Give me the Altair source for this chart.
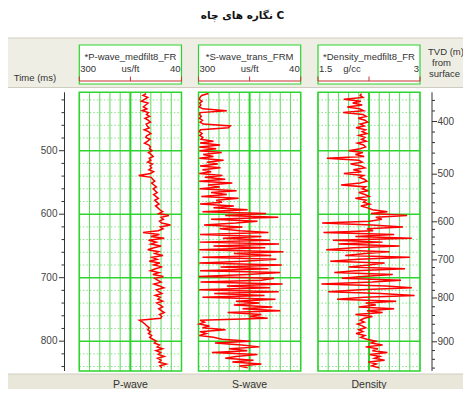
import altair as alt
import numpy as np
import pandas as pd

TITLE = "نگاره های چاه C"

# log samples: time (ms) = 410 + 3*i
t_start, t_step = 410, 3
p_wave = [130, 138, 126, 134, 142, 125, 131, 137, 128, 140, 124,
          129, 121, 133, 125, 119, 130, 127, 122, 135, 124, 118, 128, 131, 120, 126, 134, 123, 119,
          121, 115, 124, 117, 112, 122, 118, 126, 114, 120, 116, 123, 111, 119, 149, 117,
          113, 108, 116, 110, 104, 112, 107, 102, 111, 105, 99, 108, 103, 97, 106, 100,
          95, 88, 98, 72, 92, 86, 96, 90, 68, 94, 87, 99,
          138, 96, 118, 84, 124,
          104, 118, 92, 110, 126, 98, 108, 87, 115, 102, 122, 95, 111, 89, 106, 119, 97, 113, 86, 108,
          101, 92, 110, 96, 85, 104, 98, 90, 107, 94, 100, 88, 103,
          95, 88, 98, 91, 84, 96, 90, 93,
          147, 139, 133, 128, 122, 126, 119, 124, 116, 121,
          113, 104, 109, 96, 102, 88, 105, 93, 99, 84, 101, 92, 97, 79, 95, 90]
s_wave = [275, 292, 296, 298, 291, 297, 294, 298, 289, 228, 296,
          297, 293, 298, 290, 296, 288, 219, 224, 295, 298, 291, 297, 289, 294, 262, 296, 245, 298,
          255, 297, 241, 288, 262, 298, 236, 279, 251, 296, 244, 290, 268, 298, 239, 284,
          232, 298, 214, 276, 246, 297, 203, 268, 228, 293, 198, 255, 240, 296, 210, 262,
          175, 290, 128, 232, 97, 268, 150, 205, 286, 188, 246, 194,
          122, 296, 140, 238, 118,
          297, 95, 262, 130, 298, 84, 210, 115, 290, 102, 185, 298, 88, 244, 122, 296, 92, 175, 299, 108,
          140, 295, 86, 228, 118, 298, 96, 260, 132, 290, 104, 205, 145,
          210, 112, 188, 92, 226, 140, 170, 124,
          296, 285, 298, 272, 290, 231, 297, 280, 298, 262,
          240, 168, 258, 190, 145, 222, 176, 266, 150, 205, 232, 160, 214, 140, 196, 175]
density = [2.14, 2.12, 2.16, 1.88, 2.13, 2.01, 2.15, 1.93, 2.11, 2.17, 1.87,
           2.16, 2.21, 2.09, 2.19, 2.23, 2.12, 2.18, 2.06, 2.20, 2.15, 2.22, 2.10, 2.19, 2.14, 2.21, 2.08, 2.17, 2.20,
           2.12, 1.95, 2.16, 2.05, 2.18, 1.63, 2.10, 2.15, 1.98, 2.13, 2.19, 2.02, 2.14, 1.88, 2.17, 2.11,
           2.18, 2.22, 2.12, 1.84, 2.20, 2.15, 2.24, 2.10, 2.19, 2.25, 2.05, 2.21, 2.17, 2.26, 2.13, 2.23,
           2.30, 2.52, 2.28, 2.81, 2.35, 2.44, 2.26, 1.56, 2.29, 2.75, 2.22, 2.31,
           1.58, 2.62, 2.05, 2.88, 1.72,
           2.45, 1.80, 2.70, 2.02, 1.62, 2.55, 2.20, 1.90, 2.85, 2.10, 1.68, 2.48, 2.25, 1.95, 2.78, 2.05, 1.74, 2.60, 2.15, 1.85,
           2.72, 2.30, 1.55, 2.50, 2.88, 2.12, 1.65, 2.42, 2.92, 2.18, 1.78, 2.65, 2.20,
           2.35, 2.10, 2.62, 2.22, 2.45, 2.05, 2.30, 2.18,
           2.12, 2.18, 2.08, 2.15, 2.20, 2.10, 2.16, 2.06, 2.19, 2.13,
           2.22, 2.35, 2.28, 2.45, 2.20, 2.38, 2.30, 2.52, 2.26, 2.41, 2.33, 2.48, 2.24, 2.36, 2.29, 2.40]
times = [t_start + t_step * i for i in range(len(p_wave))]

track_names = ["P-wave", "S-wave", "Density"]
curve_names = ["*P-wave_medfilt8_FR", "*S-wave_trans_FRM", "*Density_medfilt8_FR"]
units = ["us/ft", "us/ft", "g/cc"]
unit_label_pos = [170, 170, 2.0]
x_domains = [[300, 40], [300, 40], [1.5, 3]]
x_end_labels = [["300", "40"], ["300", "40"], ["1.5", "3"]]

time_ticks = list(range(420, 841, 20))
tvd_major = [400, 500, 600, 700, 800, 900]
tvd_major_ms = [454, 537, 612, 672, 732, 801]

T_DOMAIN = [408, 847]

# ---------------- layout (pixels inside the plot area) ----------------
W, H = 455, 381
Y_RANGE = [84.3, 363]
X_RANGES = [[71.3, 173.5], [190.5, 292.7], [310, 412]]
FONT = "Liberation Sans"
RED = "#ff0000"
GREEN = "#2ed42e"
GREEN_MINOR = "#5ed95e"
GREEN_DOT = "#86e286"
BEIGE = "#efeee5"
TEXT = "#333333"

yscale = alt.Scale(domain=T_DOMAIN, range=Y_RANGE, nice=False, zero=False)
NOAX = None

log_df = pd.DataFrame({"t": times, "v0": p_wave, "v1": s_wave, "v2": density})

layers = []

# background bands
bands = pd.DataFrame([
    {"x": 0, "x2": W, "y": 30, "y2": 80, "c": BEIGE},
    {"x": 0, "x2": W, "y": 366, "y2": H, "c": "#e9e7da"},
])
layers.append(alt.Chart(bands).mark_rect().encode(
    x=alt.X("x:Q", scale=None, axis=NOAX), x2="x2:Q",
    y=alt.Y("y:Q", scale=None, axis=NOAX), y2="y2:Q",
    color=alt.Color("c:N", scale=None)))
seps = pd.DataFrame([
    {"x": 0, "x2": W, "y": 30, "y2": 30},
    {"x": 0, "x2": W, "y": 79.5, "y2": 79.5},
    {"x": 0, "x2": W, "y": 366, "y2": 366},
])
layers.append(alt.Chart(seps).mark_rule(color="#cfcdbf", strokeWidth=1).encode(
    x=alt.X("x:Q", scale=None, axis=NOAX), x2="x2:Q",
    y=alt.Y("y:Q", scale=None, axis=NOAX), y2="y2:Q"))

for k in range(3):
    dom = x_domains[k]
    xs = alt.Scale(domain=dom, range=X_RANGES[k], nice=False, zero=False)
    step = (dom[1] - dom[0]) / 10.0
    gv = pd.DataFrame({"v": [dom[0] + step * i for i in range(11)],
                       "t0": T_DOMAIN[0], "t1": T_DOMAIN[1]})
    gv_mid = gv.iloc[[5]]
    hg_minor = pd.DataFrame({"t": [t for t in time_ticks if t % 100],
                             "a": dom[0], "b": dom[1]})
    hg_major = pd.DataFrame({"t": [t for t in time_ticks if t % 100 == 0], "a": dom[0], "b": dom[1]})
    box = pd.DataFrame({"a": [dom[0]], "b": [dom[1]], "t0": [T_DOMAIN[0]], "t1": [T_DOMAIN[1]]})

    layers.append(alt.Chart(hg_minor).mark_rule(color=GREEN_DOT, strokeDash=[1.5, 2], strokeWidth=1).encode(
        x=alt.X("a:Q", scale=xs, axis=NOAX), x2="b:Q",
        y=alt.Y("t:Q", scale=yscale, axis=NOAX)))
    layers.append(alt.Chart(gv).mark_rule(color=GREEN_MINOR, strokeWidth=1).encode(
        x=alt.X("v:Q", scale=xs, axis=NOAX),
        y=alt.Y("t0:Q", scale=yscale, axis=NOAX), y2="t1:Q"))
    layers.append(alt.Chart(gv_mid).mark_rule(color=GREEN, strokeWidth=2).encode(
        x=alt.X("v:Q", scale=xs, axis=NOAX),
        y=alt.Y("t0:Q", scale=yscale, axis=NOAX), y2="t1:Q"))
    layers.append(alt.Chart(hg_major).mark_rule(color=GREEN, strokeWidth=1.5).encode(
        x=alt.X("a:Q", scale=xs, axis=NOAX), x2="b:Q",
        y=alt.Y("t:Q", scale=yscale, axis=NOAX)))
    layers.append(alt.Chart(box).mark_rect(fillOpacity=0, stroke=GREEN, strokeWidth=1.5).encode(
        x=alt.X("a:Q", scale=xs, axis=NOAX), x2="b:Q",
        y=alt.Y("t0:Q", scale=yscale, axis=NOAX), y2="t1:Q"))

    layers.append(alt.Chart(log_df).mark_line(color=RED, strokeWidth=1.5, strokeJoin="miter").encode(
        x=alt.X(f"v{k}:Q", scale=xs, axis=NOAX),
        y=alt.Y("t:Q", scale=yscale, axis=NOAX),
        order="t:Q"))

    # header box with scale bar
    mid = (dom[0] + dom[1]) / 2.0
    hb = pd.DataFrame({"a": [dom[0]], "b": [dom[1]]})
    layers.append(alt.Chart(hb).mark_rect(fill="white", stroke=GREEN, strokeWidth=1.2).encode(
        x=alt.X("a:Q", scale=xs, axis=NOAX), x2="b:Q",
        y=alt.value(37), y2=alt.value(76)))
    layers.append(alt.Chart(hb).mark_rule(color="#cc3333", strokeWidth=1).encode(
        x=alt.X("a:Q", scale=xs, axis=NOAX), x2="b:Q", y=alt.value(73)))
    ht = pd.DataFrame({"v": [dom[0], mid, dom[1]]})
    layers.append(alt.Chart(ht).mark_rule(color="#cc3333", strokeWidth=1).encode(
        x=alt.X("v:Q", scale=xs, axis=NOAX), y=alt.value(68.5), y2=alt.value(73)))
    lab = pd.DataFrame({"v": [dom[0], unit_label_pos[k], dom[1]],
                        "s": [x_end_labels[k][0], units[k], x_end_labels[k][1]],
                        "a": ["left", "center", "right"]})
    for a in ["left", "center", "right"]:
        layers.append(alt.Chart(lab[lab.a == a]).mark_text(
            align=a, baseline="middle", font=FONT, fontSize=9.5, color=TEXT,
            dx={"left": 1, "center": 0, "right": -1}[a]).encode(
            x=alt.X("v:Q", scale=xs, axis=NOAX), y=alt.value(61), text="s:N"))
    cn = pd.DataFrame({"v": [mid], "s": [curve_names[k]]})
    layers.append(alt.Chart(cn).mark_text(align="center", baseline="middle", font=FONT,
                                          fontSize=9.5, color=TEXT).encode(
        x=alt.X("v:Q", scale=xs, axis=NOAX), y=alt.value(48.5), text="s:N"))

# Time axis (left)
tline = pd.DataFrame({"t0": [T_DOMAIN[0]], "t1": [T_DOMAIN[1]]})
tt_major = pd.DataFrame({"t": [t for t in time_ticks if t % 100 == 0],
                         "s": [str(t) for t in time_ticks if t % 100 == 0]})
tt_minor = pd.DataFrame({"t": [t for t in time_ticks if t % 100]})
layers.append(alt.Chart(tline).mark_rule(color=TEXT, strokeWidth=1).encode(
    x=alt.value(56.5), y=alt.Y("t0:Q", scale=yscale, axis=NOAX), y2="t1:Q"))
layers.append(alt.Chart(tt_minor).mark_rule(color=TEXT, strokeWidth=1).encode(
    x=alt.value(53.5), x2=alt.value(56.5), y=alt.Y("t:Q", scale=yscale, axis=NOAX)))
layers.append(alt.Chart(tt_major).mark_rule(color=TEXT, strokeWidth=1).encode(
    x=alt.value(51), x2=alt.value(56.5), y=alt.Y("t:Q", scale=yscale, axis=NOAX)))
layers.append(alt.Chart(tt_major).mark_text(align="right", baseline="middle", font=FONT,
                                            fontSize=10, color="#444444").encode(
    x=alt.value(49.5), y=alt.Y("t:Q", scale=yscale, axis=NOAX), text="s:N"))

# TVD axis (depth ticks positioned at their two-way times)
anch_m = [300] + tvd_major + [1000]
anch_t = ([tvd_major_ms[0] - (tvd_major_ms[1] - tvd_major_ms[0])] + tvd_major_ms
          + [tvd_major_ms[-1] + (tvd_major_ms[-1] - tvd_major_ms[-2])])
minor_m = [m for m in range(300, 1001, 20) if m % 100]
minor_t = np.interp(minor_m, anch_m, anch_t)
tvd_minor = pd.DataFrame({"t": minor_t})
tvd_minor = tvd_minor[(tvd_minor.t > T_DOMAIN[0]) & (tvd_minor.t < T_DOMAIN[1])]
tvd_maj = pd.DataFrame({"t": tvd_major_ms, "m": [str(m) for m in tvd_major]})

layers.append(alt.Chart(tline).mark_rule(color=TEXT, strokeWidth=1).encode(
    x=alt.value(424), y=alt.Y("t0:Q", scale=yscale, axis=NOAX), y2="t1:Q"))
layers.append(alt.Chart(tvd_minor).mark_rule(color=TEXT, strokeWidth=1).encode(
    x=alt.value(424), x2=alt.value(427), y=alt.Y("t:Q", scale=yscale, axis=NOAX)))
layers.append(alt.Chart(tvd_maj).mark_rule(color=TEXT, strokeWidth=1).encode(
    x=alt.value(424), x2=alt.value(429), y=alt.Y("t:Q", scale=yscale, axis=NOAX)))
layers.append(alt.Chart(tvd_maj).mark_text(align="left", baseline="middle", font=FONT,
                                           fontSize=10, color="#444444").encode(
    x=alt.value(429.5), y=alt.Y("t:Q", scale=yscale, axis=NOAX), text="m:N"))

# title
texts = pd.DataFrame([{"x": 234.5, "y": 8, "s": TITLE}])
layers.append(alt.Chart(texts).mark_text(baseline="middle", fontWeight="bold", font="DejaVu Sans",
                                         fontSize=10.5, color="#111111").encode(
    x=alt.X("x:Q", scale=None, axis=NOAX), y=alt.Y("y:Q", scale=None, axis=NOAX), text="s:N"))

small = pd.DataFrame([
    {"x": 27, "y": 70, "s": "Time (ms)", "a": "center"},
    {"x": 420, "y": 44, "s": "TVD (m)", "a": "left"},
    {"x": 424, "y": 55, "s": "from", "a": "left"},
    {"x": 421, "y": 66, "s": "surface", "a": "left"},
])
for a in ["center", "left"]:
    layers.append(alt.Chart(small[small.a == a]).mark_text(align=a, baseline="middle", font=FONT,
                                                           fontSize=9.5, color=TEXT).encode(
        x=alt.X("x:Q", scale=None, axis=NOAX), y=alt.Y("y:Q", scale=None, axis=NOAX), text="s:N"))

for k in range(3):
    xs = alt.Scale(domain=x_domains[k], range=X_RANGES[k], nice=False, zero=False)
    row = pd.DataFrame({"name": [track_names[k]], "c": [(x_domains[k][0] + x_domains[k][1]) / 2.0]})
    layers.append(alt.Chart(row).mark_text(align="center", baseline="middle", font=FONT,
                                           fontSize=10.5, color=TEXT).encode(
        x=alt.X("c:Q", scale=xs, axis=NOAX), y=alt.value(377), text="name:N"))

chart = alt.layer(*layers).resolve_scale(x="independent").properties(
    width=W, height=H,
    autosize=alt.AutoSizeParams(type="none"),
    padding=0,
    background="white",
).configure_view(stroke=None)

chart.save("out.html", embed_options={"renderer": "svg", "actions": False})
